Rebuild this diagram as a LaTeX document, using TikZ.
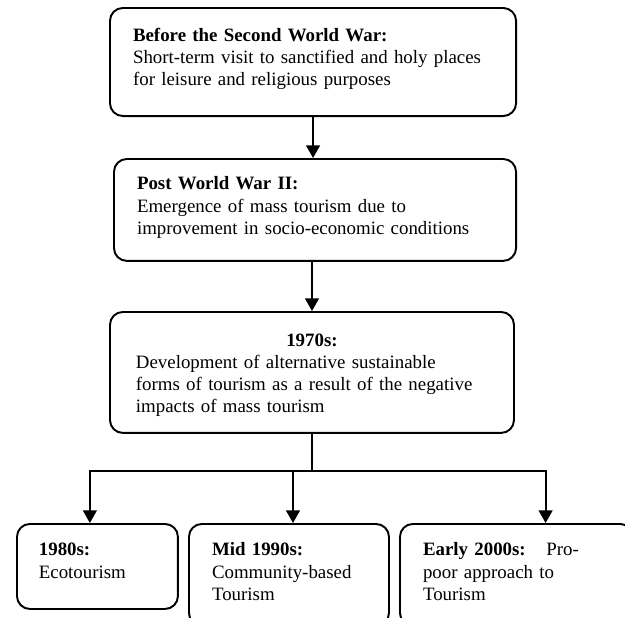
\documentclass[tikz,border=0pt]{standalone}
\usepackage{fontspec}
\setmainfont{Liberation Serif}
\usetikzlibrary{arrows.meta}

\begin{document}
\begin{tikzpicture}[x=0.62pt, y=-0.62pt, line width=1.2pt,
  box/.style={draw, rounded corners=8pt, anchor=north west, align=left, inner ysep=0pt, inner xsep=14.3pt, font=\fontsize{11.7}{13.7}\selectfont},
  arr/.style={-{Triangle[length=7.8pt, width=8.5pt]}}]
\clip (0,0) rectangle (625,617);

\node (prewar) [box, text width=223.2pt, text height=20.9pt, text depth=46.1pt] at (109,7) {\textbf{Before the Second World War:}\\Short-term visit to sanctified and holy places\\for leisure and religious purposes};
\node (postwar) [box, text width=220.7pt, text height=19.2pt, text depth=44pt] at (113,158) {\textbf{Post World War II:}\\Emergence of mass tourism due to\\improvement in socio-economic conditions};
\node (seventies) [box, inner xsep=16.1pt, text width=218.3pt, text height=21.1pt, text depth=53.9pt] at (109,311) {\makebox[\linewidth]{\textbf{1970s:}}\\Development of alternative sustainable\\forms of tourism as a result of the negative\\impacts of mass tourism};

\node (eighties) [box, inner xsep=13.6pt, text width=72.6pt, text height=19.8pt, text depth=32.9pt] at (16,523) {\textbf{1980s:}\\Ecotourism};
\node (nineties) [box, text width=95.4pt, text height=19.8pt, text depth=43.4pt] at (188,523) {\textbf{Mid 1990s:}\\Community-based\\Tourism};
\node (twothousands) [box, text width=116pt, text height=19.8pt, text depth=43.4pt] at (399,523) {\textbf{Early 2000s:}\hspace{12.8pt}Pro-\\poor approach to\\Tourism};

\coordinate (split) at (seventies.south |- 0,471);
\draw[arr] (prewar.south) -- (prewar.south |- postwar.north);
\draw[arr] (seventies.north |- postwar.south) -- (seventies.north);
\draw (seventies.south) -- (split);
\draw[arr] (split) -| ([xshift=-4.7pt]eighties.north);
\draw[arr] (split) -| ([xshift=2.5pt]nineties.north);
\draw[arr] (split) -| ([xshift=18pt]twothousands.north);
\end{tikzpicture}
\end{document}
